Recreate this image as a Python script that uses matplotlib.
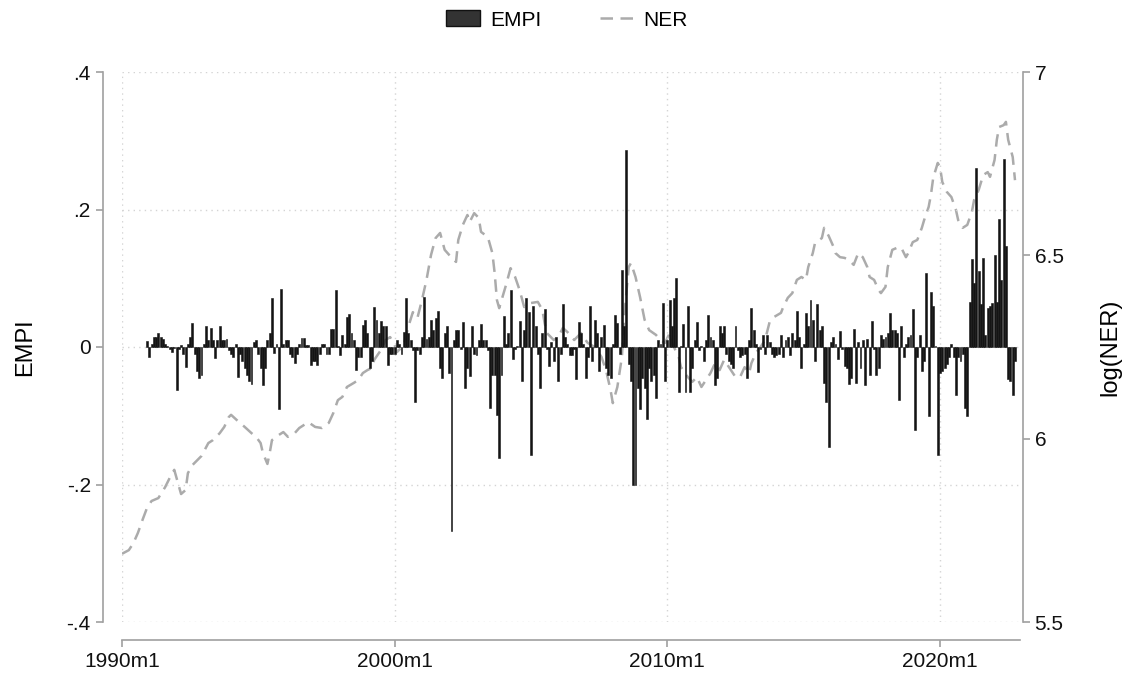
import matplotlib.pyplot as plt
from matplotlib.patches import Patch
from matplotlib.lines import Line2D
import numpy as np

plt.rcParams['font.family'] = ['Liberation Sans', 'DejaVu Sans']

# Months are counted from 1990m1 (= 0), as in Stata's %tm
empi_first = 11  # first EMPI observation: 1990m12

# Exchange market pressure index, monthly
empi = [
    0.009,
    -0.015, 0.005, 0.015, 0.015, 0.021, 0.015, 0.012, 0.005, 0.002, -0.003, -0.007, -0.002,   # 1991
    -0.062, -0.003, 0.003, -0.010, -0.029, 0.004, 0.015, 0.035, -0.010, -0.035, -0.045, -0.040,  # 1992
    0.005, 0.031, 0.010, 0.027, 0.010, -0.016, 0.010, 0.030, 0.010, 0.010, 0.012, -0.005,     # 1993
    -0.010, -0.014, 0.005, -0.043, -0.010, -0.020, -0.030, -0.040, -0.050, -0.054, 0.008, 0.010,  # 1994
    -0.010, -0.030, -0.055, -0.030, 0.010, 0.020, 0.071, -0.008, 0.005, -0.090, 0.085, 0.005,  # 1995
    0.010, 0.010, -0.010, -0.015, -0.023, -0.010, 0.005, 0.013, 0.013, 0.003, 0.003, -0.026,  # 1996
    -0.020, -0.020, -0.026, -0.010, 0.005, 0.005, -0.010, -0.010, 0.026, 0.026, 0.083, 0.002,  # 1997
    -0.012, 0.017, 0.005, 0.043, 0.048, 0.020, 0.010, -0.033, -0.015, -0.015, 0.032, 0.040,   # 1998
    0.020, -0.031, -0.020, 0.058, 0.040, 0.020, 0.038, 0.030, 0.030, -0.026, -0.010, -0.010,  # 1999
    -0.010, 0.010, 0.005, -0.010, 0.022, 0.072, 0.020, 0.010, -0.004, -0.080, -0.005, -0.010,  # 2000
    0.015, 0.073, 0.012, 0.015, 0.039, 0.025, 0.042, 0.052, -0.031, -0.045, 0.020, 0.030,     # 2001
    -0.038, -0.267, 0.010, 0.025, 0.025, -0.003, 0.037, -0.060, -0.030, -0.042, 0.030, -0.010,  # 2002
    -0.012, 0.010, 0.033, 0.010, 0.010, -0.005, -0.089, -0.040, -0.040, -0.099, -0.162, -0.040,  # 2003
    0.045, 0.005, 0.020, 0.083, -0.017, -0.003, 0.002, 0.038, -0.049, 0.025, 0.072, 0.051,    # 2004
    -0.157, 0.059, 0.030, -0.010, -0.060, 0.020, 0.055, -0.003, -0.027, 0.008, -0.020, 0.015,  # 2005
    -0.049, -0.010, 0.062, 0.015, 0.005, -0.012, -0.012, -0.003, -0.046, 0.037, 0.020, 0.005,  # 2006
    -0.045, -0.015, 0.060, -0.020, 0.040, 0.020, -0.035, 0.015, 0.032, -0.030, -0.040, -0.045,  # 2007
    0.005, 0.047, 0.035, -0.010, 0.112, 0.030, 0.287, -0.025, -0.050, -0.200, -0.200, -0.060,  # 2008
    -0.090, -0.045, -0.060, -0.104, -0.030, -0.050, -0.040, -0.074, 0.010, 0.005, 0.064, -0.050,  # 2009
    0.010, 0.068, 0.030, 0.071, 0.100, -0.065, 0.002, 0.033, -0.065, 0.060, -0.065, -0.030,   # 2010
    0.010, 0.037, -0.005, 0.002, -0.020, 0.010, 0.047, 0.015, 0.010, -0.055, -0.045, 0.030,   # 2011
    0.020, 0.030, -0.010, -0.020, -0.025, -0.030, 0.030, -0.005, -0.015, -0.012, -0.010, -0.045,  # 2012
    0.010, 0.057, 0.025, 0.005, -0.036, -0.003, 0.018, -0.010, 0.018, 0.008, -0.010, -0.015,  # 2013
    -0.012, -0.010, 0.018, -0.015, 0.010, 0.014, -0.012, 0.020, 0.010, 0.053, 0.015, -0.031,  # 2014
    0.005, 0.050, 0.030, 0.068, 0.040, -0.021, 0.062, 0.025, 0.030, -0.052, -0.080, -0.145,   # 2015
    0.008, 0.015, 0.005, -0.018, 0.023, -0.003, -0.027, -0.030, -0.054, -0.045, 0.026, -0.052,  # 2016
    0.008, -0.030, 0.010, -0.055, 0.012, -0.040, 0.038, -0.003, -0.040, -0.030, 0.018, 0.012,  # 2017
    0.015, 0.020, 0.049, 0.025, 0.025, 0.020, -0.077, 0.030, -0.015, 0.005, 0.015, 0.018,    # 2018
    0.056, -0.120, -0.015, 0.017, -0.035, -0.020, 0.108, -0.100, 0.080, 0.059, 0.002, -0.157,  # 2019
    -0.038, -0.035, -0.030, -0.025, -0.015, 0.005, -0.015, -0.070, -0.015, -0.020, -0.010, -0.089,  # 2020
    -0.100, 0.066, 0.128, 0.093, 0.261, 0.111, 0.062, 0.130, 0.017, 0.057, 0.060, 0.064,    # 2021
    0.134, 0.065, 0.186, 0.097, 0.273, 0.147, -0.046, -0.050, -0.070, -0.020,                # 2022
]

# log nominal exchange rate (right axis)
ner_month = [
    0, 3, 5, 7, 9, 11, 13, 16, 19, 21, 23, 25, 26, 28, 29, 31, 35, 38, 40, 43,
    45, 47, 48, 51, 54, 57, 59, 61, 62, 64, 65, 66, 69, 71, 73, 76, 78, 82, 85, 88,
    91, 93, 95, 97, 99, 102, 104, 106, 108, 110, 111, 114, 116, 118, 120, 121, 124, 126, 128, 130,
    132, 134, 136, 138, 140, 142, 144, 147, 148, 150, 152, 153, 155, 157, 158, 161, 163, 164, 165, 166,
    169, 171, 173, 175, 177, 180, 183, 185, 186, 187, 190, 192, 194, 196, 199, 202, 203, 205, 208, 211,
    213, 215, 216, 218, 220, 221, 223, 224, 226, 228, 230, 232, 235, 237, 239, 241, 242, 245, 246, 249,
    251, 253, 255, 257, 259, 261, 263, 265, 268, 270, 272, 274, 276, 277, 279, 281, 283, 285, 287, 290,
    291, 293, 295, 297, 299, 301, 302, 304, 305, 308, 309, 311, 313, 314, 316, 318, 320, 322, 324, 326,
    328, 329, 331, 333, 334, 336, 337, 339, 342, 343, 345, 346, 348, 350, 352, 353, 355, 356, 357, 359,
    360, 361, 363, 365, 367, 368, 370, 372, 374, 375, 377, 379, 381, 382, 384, 385, 386, 388, 389, 390,
    392, 393,
]
ner_value = [
    5.686, 5.696, 5.715, 5.743, 5.778, 5.811, 5.830, 5.838, 5.868, 5.893, 5.915, 5.871, 5.849, 5.860, 5.906, 5.928, 5.953, 5.988, 5.996, 6.015,
    6.032, 6.059, 6.065, 6.048, 6.032, 6.015, 6.005, 5.988, 5.961, 5.931, 5.961, 5.996, 6.010, 6.018, 6.005, 6.015, 6.029, 6.045, 6.032, 6.029,
    6.043, 6.070, 6.105, 6.114, 6.141, 6.152, 6.160, 6.179, 6.187, 6.193, 6.215, 6.242, 6.269, 6.277, 6.255, 6.236, 6.255, 6.305, 6.345, 6.329,
    6.378, 6.433, 6.501, 6.547, 6.561, 6.515, 6.501, 6.482, 6.542, 6.583, 6.610, 6.591, 6.615, 6.602, 6.564, 6.550, 6.506, 6.452, 6.378, 6.356,
    6.419, 6.465, 6.441, 6.405, 6.359, 6.370, 6.373, 6.351, 6.315, 6.288, 6.269, 6.277, 6.302, 6.291, 6.269, 6.288, 6.277, 6.261, 6.250, 6.223,
    6.187, 6.133, 6.097, 6.141, 6.223, 6.332, 6.468, 6.479, 6.441, 6.386, 6.324, 6.296, 6.283, 6.269, 6.261, 6.288, 6.261, 6.223, 6.195, 6.168,
    6.155, 6.168, 6.141, 6.160, 6.179, 6.206, 6.187, 6.215, 6.187, 6.168, 6.168, 6.195, 6.179, 6.206, 6.234, 6.250, 6.269, 6.318, 6.332, 6.343,
    6.359, 6.384, 6.397, 6.433, 6.441, 6.433, 6.468, 6.506, 6.534, 6.547, 6.575, 6.553, 6.525, 6.506, 6.495, 6.493, 6.487, 6.474, 6.506, 6.495,
    6.468, 6.441, 6.433, 6.405, 6.397, 6.414, 6.468, 6.515, 6.523, 6.520, 6.495, 6.506, 6.536, 6.542, 6.575, 6.596, 6.632, 6.665, 6.711, 6.752,
    6.741, 6.700, 6.673, 6.659, 6.624, 6.596, 6.575, 6.583, 6.618, 6.651, 6.678, 6.719, 6.727, 6.714, 6.760, 6.815, 6.850, 6.855, 6.864, 6.815,
    6.768, 6.705,
]

x_ticks = [0, 120, 240, 360]
x_labels = ['1990m1', '2000m1', '2010m1', '2020m1']
empi_ticks = [-0.4, -0.2, 0, 0.2, 0.4]
empi_labels = ['-.4', '-.2', '0', '.2', '.4']
ner_ticks = [5.5, 6, 6.5, 7]
ner_labels = ['5.5', '6', '6.5', '7']

axis_grey = '#a0a0a0'
grid_grey = '#d4d4d4'
bar_color = '#141414'
ner_color = '#ababab'

fig = plt.figure(figsize=(11.39, 6.89), dpi=100)
ax = fig.add_axes([122 / 1139, 67 / 689, 898 / 1139, 550 / 689])

months = np.arange(empi_first, empi_first + len(empi))
ax.bar(months, empi, width=0.85, color=bar_color, edgecolor=bar_color,
       linewidth=0.4, zorder=3)

ax.set_xlim(0, 395.2)
ax.set_ylim(-0.4, 0.4)
ax.set_xticks(x_ticks)
ax.set_xticklabels(x_labels)
ax.set_yticks(empi_ticks)
ax.set_yticklabels(empi_labels)
ax.grid(True, color=grid_grey, linestyle=(0, (1, 3)), linewidth=1.0, zorder=0)
ax.set_ylabel('EMPI', fontsize=17, labelpad=22)

for side in ['top', 'right']:
    ax.spines[side].set_visible(False)
ax.spines['left'].set_position(('outward', 14))
ax.spines['bottom'].set_position(('outward', 13))
for side in ['left', 'bottom']:
    ax.spines[side].set_color(axis_grey)
    ax.spines[side].set_linewidth(1.2)
ax.tick_params(axis='both', colors=axis_grey, labelcolor='#111111',
               labelsize=15, length=5, width=1.2)

# second axis for the exchange rate
ax2 = ax.twinx()
ax2.plot(ner_month, ner_value, color=ner_color, linewidth=1.8,
         dashes=(5, 3), zorder=2)
ax2.set_ylim(5.5, 7)
ax2.set_yticks(ner_ticks)
ax2.set_yticklabels(ner_labels)
for side in ['top', 'left', 'bottom']:
    ax2.spines[side].set_visible(False)
ax2.spines['right'].set_position(('outward', 2))
ax2.spines['right'].set_color(axis_grey)
ax2.spines['right'].set_linewidth(1.2)
ax2.tick_params(axis='y', colors=axis_grey, labelcolor='#111111',
                labelsize=15, length=5, width=1.2)
ax2.set_ylabel('log(NER)', fontsize=17, labelpad=26)
ax.set_zorder(ax2.get_zorder() + 1)
ax.patch.set_visible(False)

handles = [
    Patch(facecolor='#333333', edgecolor='#111111', linewidth=1.0),
    Line2D([0], [0], color=ner_color, linewidth=1.8, dashes=(5, 3)),
]
fig.legend(handles, ['EMPI', 'NER'], loc='center', bbox_to_anchor=(567 / 1139, 1 - 20 / 689),
           ncol=2, frameon=False, fontsize=15, handlelength=1.6, handleheight=0.8,
           columnspacing=2.8, handletextpad=0.5)

fig.savefig('out.png', dpi=100)
